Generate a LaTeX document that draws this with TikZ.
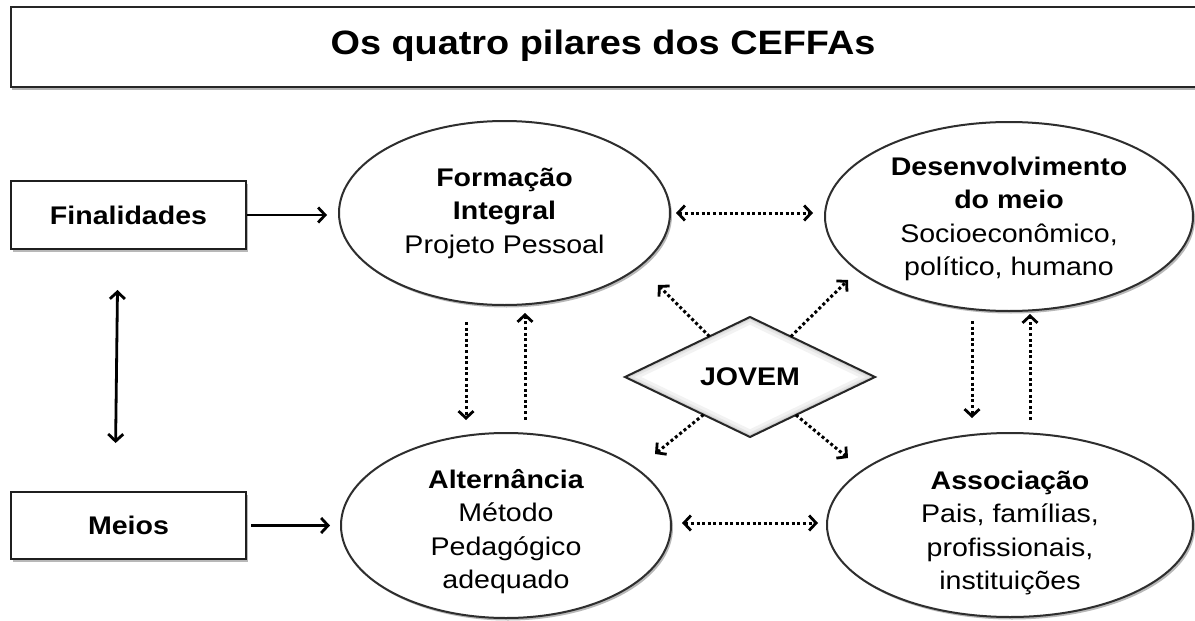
\documentclass[tikz,border=0pt]{standalone}
\usepackage{fontspec}
\setmainfont{Liberation Sans}[FakeStretch=1.12]
\usetikzlibrary{arrows.meta,shapes.geometric,shadows}
\tikzset{
  base/.style={inner sep=0pt, outer sep=0pt, text=black, align=center,
    font=\fontsize{25.5}{33.5}\selectfont},
  shade/.style={drop shadow={shadow xshift=2pt, shadow yshift=-2.5pt, opacity=0.28, fill=black}},
  sbox/.style={base, rectangle, draw=black!88, line width=2.6pt, fill=white, shade,
    font=\fontsize{25.5}{33.5}\selectfont\bfseries},
  titlebox/.style={rectangle, inner sep=0pt, outer sep=0pt, draw=black!85, line width=2.6pt, fill=white,
    drop shadow={shadow xshift=1pt, shadow yshift=-3pt, opacity=0.3, fill=black}},
  pillar/.style={base, ellipse, draw=black!82, line width=2pt, fill=white, shade, inner sep=-15pt},
  jovemshape/.style={base, diamond, draw=black!85, line width=2pt, fill=white,
    minimum width=250pt, minimum height=120pt, aspect=2.083,
    font=\fontsize{25.5}{33.5}\selectfont\bfseries,
    path picture={
      \draw[line width=14pt, black!5] (path picture bounding box.north) -- (path picture bounding box.east) -- (path picture bounding box.south) -- (path picture bounding box.west) -- cycle;
      \draw[line width=8pt, black!10] (path picture bounding box.north) -- (path picture bounding box.east) -- (path picture bounding box.south) -- (path picture bounding box.west) -- cycle;
      \draw[line width=4pt, black!18] (path picture bounding box.north) -- (path picture bounding box.east) -- (path picture bounding box.south) -- (path picture bounding box.west) -- cycle;
    }},
  solidarrow/.style={draw=black, line width=2.8pt},
  dotarrow/.style={draw=black, line width=3pt, dash pattern=on 3pt off 2.6pt},
}
\begin{document}
\begin{tikzpicture}[x=1pt, y=-1pt,
  >={Straight Barb[length=7pt,width=15pt,line width=2.8pt]}]
\useasboundingbox (0,0) rectangle (1195,621);
\fill[white] (0,0) rectangle (1195,621);

% title
\begin{scope}
  \clip (0,0) rectangle (1195,621);
  \node[titlebox, minimum width=1215pt, minimum height=80pt, anchor=north west] (tbox) at (11,7) {};
\end{scope}
\node[base, font=\fontsize{33.8}{40}\selectfont\bfseries] (title) at (603,46) {Os quatro pilares dos CEFFAs};

% left boxes
\node[sbox, minimum width=235pt, minimum height=68pt] (fin) at (128.5,215) {Finalidades};
\node[sbox, minimum width=235pt, minimum height=67pt] (meios) at (128.5,525.5) {Meios};

% pillars
\node[pillar, minimum width=331pt, minimum height=184pt] (e1) at (504.5,213)
  {\textbf{Formação}\\\textbf{Integral}\\Projeto Pessoal};
\node[pillar, minimum width=368pt, minimum height=189pt] (e2) at (1009,216.5)
  {\rule{0pt}{23pt}\textbf{Desenvolvimento}\\\textbf{do meio}\\Socioeconômico,\\político, humano};
\node[pillar, minimum width=330pt, minimum height=185pt] (e3) at (506,525.5)
  {\rule{0pt}{31pt}\textbf{Alternância}\\Método\\Pedagógico\\adequado};
\node[pillar, minimum width=366pt, minimum height=184pt] (e4) at (1010,525)
  {\rule{0pt}{34pt}\textbf{Associação}\\Pais, famílias,\\profissionais,\\instituições};

% centre
\node[jovemshape] (jovem) at (750,377) {JOVEM};

% solid arrows
\draw[solidarrow, ->, shorten <=1pt, shorten >=12pt] (fin.east) -- (fin.east -| e1.west);
\draw[solidarrow, ->, shorten <=5pt, shorten >=11pt] (meios.east) -- (meios.east -| e3.west);
\draw[solidarrow, <->, shorten <=41pt, shorten >=49pt] ([xshift=-10.5pt]fin.south) -- ([xshift=-13.5pt]meios.north);

% dotted horizontal
\draw[dotarrow, <->, shorten <=6pt, shorten >=12pt] (e1.east) -- (e1.east -| e2.west);
\draw[dotarrow, <->, shorten <=11pt, shorten >=9pt] ([yshift=2.5pt]e3.east) -- ([yshift=2.5pt]e3.east -| e4.west);

% dotted vertical, left pair
\draw[dotarrow, ->, shorten <=17pt, shorten >=13pt] ([xshift=-38.5pt]e1.south) -- ([xshift=-38.5pt]e1.south |- e3.north);
\draw[dotarrow, ->, shorten <=13.5pt, shorten >=8pt] ([xshift=20.5pt]e1.south |- e3.north) -- ([xshift=20.5pt]e1.south);
% dotted vertical, right pair
\draw[dotarrow, ->, shorten <=10pt, shorten >=15pt] ([xshift=-37pt]e2.south) -- ([xshift=-37pt]e2.south |- e4.north);
\draw[dotarrow, ->, shorten <=13pt, shorten >=3pt] ([xshift=21pt]e2.south |- e4.north) -- ([xshift=21pt]e2.south);

% diagonals from JOVEM
\coordinate (ul) at (658,285);
\coordinate (ur) at (848,280);
\coordinate (ll) at (655,454);
\coordinate (lr) at (848,458);
\draw[dotarrow, ->] (jovem) -- (ul);
\draw[dotarrow, ->] (jovem) -- (ur);
\draw[dotarrow, ->] (jovem) -- (ll);
\draw[dotarrow, ->] (jovem) -- (lr);
\end{tikzpicture}
\end{document}
